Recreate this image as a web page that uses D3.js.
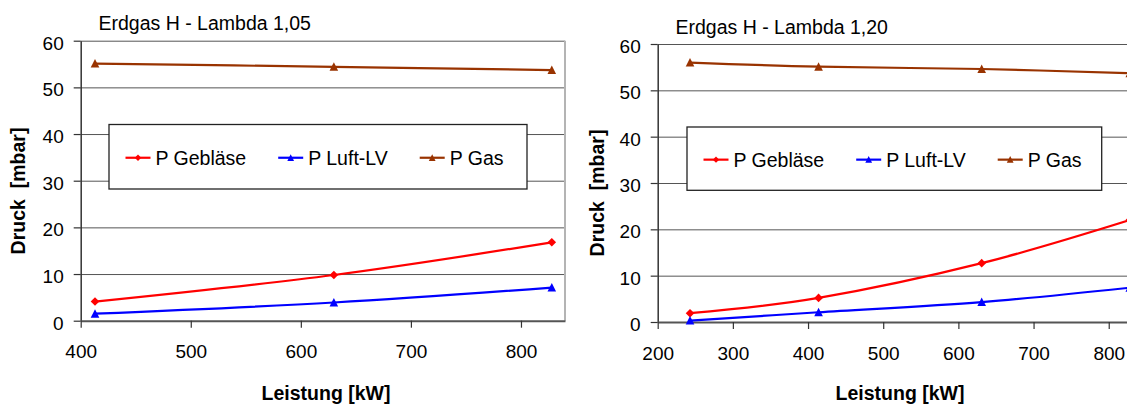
<!DOCTYPE html>
<html>
<head>
<meta charset="utf-8">
<script src="https://cdn.jsdelivr.net/npm/d3@7"></script>
<style>
  html, body { margin: 0; padding: 0; background: #fff; overflow: hidden; }
  text { font-family: "Liberation Sans", Arial, sans-serif; fill: #000; }
</style>
</head>
<body>
<svg id="chart" width="1127" height="405"></svg>
<script>
// ---- data ----
const seriesNames = ["P Gebläse", "P Luft-LV", "P Gas"];
const yTicks = [0, 10, 20, 30, 40, 50, 60];

const leftTitle = "Erdgas H - Lambda 1,05";
const leftLeistung = [413, 630, 828];
const leftGeblaese = [4.1, 9.8, 16.8];
const leftLuft = [1.5, 3.9, 7.1];
const leftGas = [55.1, 54.4, 53.7];
const leftXTicks = [400, 500, 600, 700, 800];

const rightTitle = "Erdgas H - Lambda 1,20";
const rightLeistung = [243, 414, 631, 828];
const rightGeblaese = [1.9, 5.2, 12.7, 22.0];
const rightLuft = [0.3, 2.1, 4.3, 7.4];
const rightGas = [56.0, 55.1, 54.6, 53.7];
const rightXTicks = [200, 300, 400, 500, 600, 700, 800];

const xLabel = "Leistung [kW]";
const yLabel = "Druck  [mbar]";

// ---- styling ----
const colors = ["#ff0000", "#0000ff", "#993300"];
const markerKinds = ["diamond", "triangle", "triangle"];

function markerPath(kind, s) {
  if (kind === "diamond") return `M0,${-s}L${s},0L0,${s}L${-s},0Z`;
  return `M0,${-s * 1.05}L${s},${s * 0.92}L${-s},${s * 0.92}Z`;
}

const svg = d3.select("#chart");

function drawPanel(cfg) {
  const x = d3.scaleLinear().domain(cfg.xDomain).range([cfg.left, cfg.right]);
  const y = d3.scaleLinear().domain([0, 60]).range([cfg.bottom, cfg.top]);
  const g = svg.append("g");

  // horizontal gridlines
  g.append("g")
    .attr("transform", `translate(${cfg.left},0)`)
    .call(d3.axisLeft(y).tickValues(yTicks.filter(v => v > 0))
      .tickSize(-(cfg.right - cfg.left)).tickFormat("").tickSizeOuter(0))
    .call(a => a.select(".domain").remove())
    .call(a => a.selectAll("line").attr("stroke", "#555").attr("stroke-width", 1));

  // right border of plot area
  g.append("line")
    .attr("x1", cfg.right).attr("x2", cfg.right)
    .attr("y1", y(60)).attr("y2", y(0))
    .attr("stroke", "#b4b4b4").attr("stroke-width", 2);

  // y axis
  g.append("g")
    .attr("transform", `translate(${cfg.left},0)`)
    .call(d3.axisLeft(y).tickValues(yTicks).tickSize(7).tickPadding(10).tickSizeOuter(0))
    .call(a => a.select(".domain").attr("stroke", "#333").attr("stroke-width", 1.5))
    .call(a => a.selectAll(".tick line").attr("stroke", "#333").attr("stroke-width", 1.2))
    .call(a => a.selectAll("text").attr("dy", "0.44em")
      .style("font-size", "19px").style("font-family", "Liberation Sans, Arial, sans-serif").attr("fill", "#000"));

  // x axis
  g.append("g")
    .attr("transform", `translate(0,${cfg.bottom})`)
    .call(d3.axisBottom(x).tickValues(cfg.xTicks).tickSize(7).tickSizeOuter(0))
    .call(a => a.select(".domain").attr("stroke", "#555").attr("stroke-width", 2))
    .call(a => a.selectAll(".tick line").attr("stroke", "#333").attr("stroke-width", 1.2))
    .call(a => a.selectAll("text").attr("y", 37.5).attr("dy", null)
      .style("font-size", "19px").style("font-family", "Liberation Sans, Arial, sans-serif").attr("fill", "#000"));

  // series
  const line = d3.line()
    .x((d, i) => x(cfg.xs[i]))
    .y(d => y(d))
    .curve(d3.curveCatmullRom.alpha(0));

  cfg.series.forEach((vals, si) => {
    g.append("path")
      .attr("d", line(vals))
      .attr("fill", "none")
      .attr("stroke", colors[si])
      .attr("stroke-width", 2.2);
    g.selectAll(null).data(vals).enter().append("path")
      .attr("transform", (d, i) => `translate(${x(cfg.xs[i])},${y(d)})`)
      .attr("d", markerPath(markerKinds[si], markerKinds[si] === "diamond" ? 4.3 : 4.3))
      .attr("fill", colors[si]);
  });

  // legend
  const lg = cfg.legend;
  g.append("rect")
    .attr("x", lg.x).attr("y", lg.y).attr("width", lg.w).attr("height", lg.h)
    .attr("fill", "#fff").attr("stroke", "#222").attr("stroke-width", 1.3);
  let cx = lg.x + 16.5;
  const cy = lg.y + lg.h / 2 + 1;
  seriesNames.forEach((name, si) => {
    g.append("line")
      .attr("x1", cx).attr("x2", cx + 25).attr("y1", cy).attr("y2", cy)
      .attr("stroke", colors[si]).attr("stroke-width", 2.2);
    g.append("path")
      .attr("transform", `translate(${cx + 12.5},${cy})`)
      .attr("d", markerPath(markerKinds[si], markerKinds[si] === "diamond" ? 3.2 : 3.4))
      .attr("fill", colors[si]);
    const t = g.append("text")
      .attr("x", cx + 30).attr("y", cy).attr("dy", "0.36em")
      .style("font-size", "19.5px")
      .text(name);
    cx += 30 + t.node().getComputedTextLength() + 32;
  });

  // titles
  g.append("text")
    .attr("x", cfg.titleX).attr("y", cfg.titleY)
    .style("font-size", "19.5px")
    .text(cfg.title);

  g.append("text")
    .attr("transform", `translate(${cfg.yTitleX},${cfg.yTitleY}) rotate(-90)`)
    .attr("text-anchor", "middle")
    .style("font-size", "19.5px").style("font-weight", "bold").style("white-space", "pre")
    .text(yLabel);

  g.append("text")
    .attr("x", cfg.xTitleX).attr("y", 400)
    .attr("text-anchor", "middle")
    .style("font-size", "19.5px").style("font-weight", "bold")
    .text(xLabel);
}

drawPanel({
  left: 80.7, right: 565, top: 40.7, bottom: 320.7, xDomain: [400, 840],
  xTicks: leftXTicks, xs: leftLeistung,
  series: [leftGeblaese, leftLuft, leftGas],
  title: leftTitle, titleX: 98.5, titleY: 29.5,
  legend: { x: 109, y: 124.5, w: 418, h: 64.5 },
  yTitleX: 24.5, yTitleY: 191, xTitleX: 326
});

drawPanel({
  left: 657.7, right: 1138.8, top: 44, bottom: 322, xDomain: [200, 840],
  xTicks: rightXTicks, xs: rightLeistung,
  series: [rightGeblaese, rightLuft, rightGas],
  title: rightTitle, titleX: 675.5, titleY: 33.5,
  legend: { x: 687, y: 127, w: 414.7, h: 63.3 },
  yTitleX: 603.5, yTitleY: 193, xTitleX: 900
});
</script>
</body>
</html>
